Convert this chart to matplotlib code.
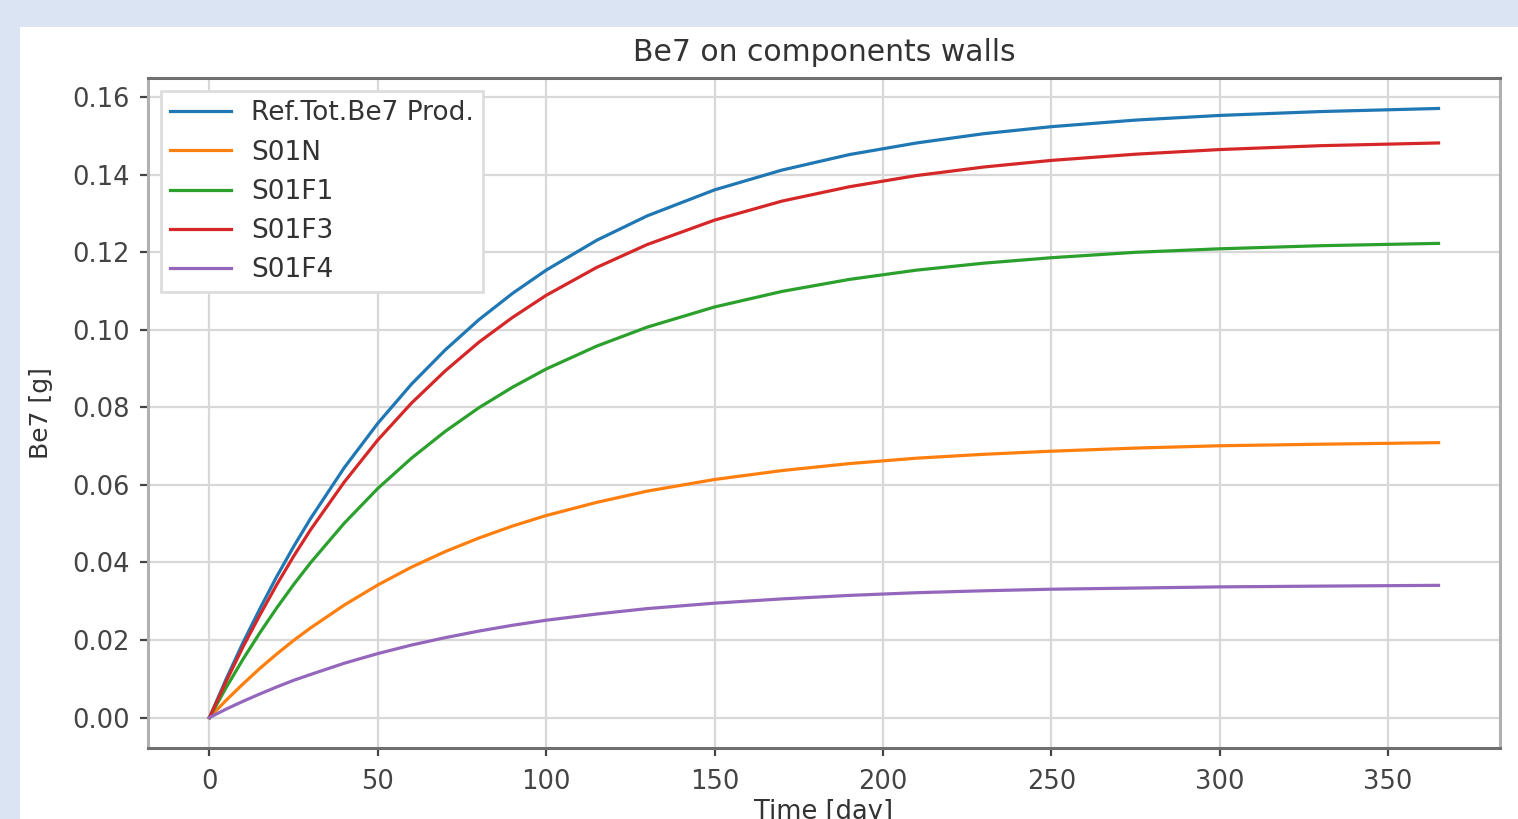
import matplotlib
matplotlib.use("Agg")
import matplotlib.pyplot as plt
from matplotlib.patches import Rectangle

days = [0, 5, 10, 15, 20, 25, 30, 40, 50, 60, 70, 80, 90, 100, 115, 130, 150,
        170, 190, 210, 230, 250, 275, 300, 330, 365]

ref_tot = [0, 0.0100, 0.0194, 0.0281, 0.0364, 0.0441, 0.0513, 0.0644, 0.0759, 0.0860,
           0.0948, 0.1026, 0.1094, 0.1154, 0.1231, 0.1294, 0.1361, 0.1412, 0.1452,
           0.1482, 0.1506, 0.1524, 0.1541, 0.1553, 0.1563, 0.1571]
s01n = [0, 0.0045, 0.0087, 0.0127, 0.0164, 0.0199, 0.0231, 0.0290, 0.0342, 0.0388,
        0.0428, 0.0463, 0.0494, 0.0521, 0.0555, 0.0584, 0.0614, 0.0637, 0.0655,
        0.0669, 0.0679, 0.0687, 0.0695, 0.0701, 0.0705, 0.0709]
s01f1 = [0, 0.0078, 0.0151, 0.0219, 0.0283, 0.0343, 0.0399, 0.0501, 0.0591, 0.0669,
         0.0738, 0.0799, 0.0852, 0.0899, 0.0958, 0.1007, 0.1059, 0.1099, 0.1130,
         0.1154, 0.1172, 0.1186, 0.1200, 0.1209, 0.1217, 0.1223]
s01f3 = [0, 0.0094, 0.0183, 0.0265, 0.0343, 0.0416, 0.0484, 0.0607, 0.0716, 0.0811,
         0.0894, 0.0968, 0.1032, 0.1089, 0.1161, 0.1220, 0.1283, 0.1332, 0.1369,
         0.1398, 0.1420, 0.1437, 0.1453, 0.1465, 0.1475, 0.1482]
s01f4 = [0, 0.0022, 0.0042, 0.0061, 0.0079, 0.0096, 0.0111, 0.0140, 0.0165, 0.0187,
         0.0206, 0.0223, 0.0238, 0.0251, 0.0267, 0.0281, 0.0295, 0.0306, 0.0315,
         0.0322, 0.0327, 0.0331, 0.0334, 0.0337, 0.0339, 0.0341]

series = [("Ref.Tot.Be7 Prod.", ref_tot), ("S01N", s01n), ("S01F1", s01f1),
          ("S01F3", s01f3), ("S01F4", s01f4)]

fig = plt.figure(figsize=(15.18, 8.19), dpi=100)
fig.patch.set_facecolor("#dbe4f3")
# white panel behind the chart
fig.patches.append(Rectangle((20 / 1518, 0), 1, 1 - 27 / 819, transform=fig.transFigure,
                             facecolor="white", edgecolor="none", zorder=-10))

ax = fig.add_axes([148 / 1518, 1 - 748 / 819, (1500 - 148) / 1518, (748 - 78) / 819])
for name, vals in series:
    ax.plot(days, vals, lw=2.3, label=name)

ax.grid(True, color="#d8d8d8", lw=1.6)
ax.set_axisbelow(True)
for side in ["top", "bottom"]:
    ax.spines[side].set_color("#707070")
    ax.spines[side].set_linewidth(2.2)
for side in ["left", "right"]:
    ax.spines[side].set_color("#b0b0b0")
    ax.spines[side].set_linewidth(2.2)

ax.set_yticks([0, 0.02, 0.04, 0.06, 0.08, 0.10, 0.12, 0.14, 0.16])
ax.tick_params(labelsize=18.5, colors="#444444", length=6, width=1.6)
ax.tick_params(axis="x", pad=9)
ax.tick_params(axis="y", pad=7)
ax.set_title("Be7 on components walls", fontsize=21.5, color="#333333", pad=12)
ax.set_xlabel("Time [day]", fontsize=18.5, color="#333333", labelpad=3)
ax.set_ylabel("Be7 [g]", fontsize=18, color="#333333", labelpad=14)

leg = ax.legend(loc="upper left", fontsize=19, handlelength=2.3, handletextpad=0.75,
                borderpad=0.35, labelspacing=0.5, framealpha=1, fancybox=False,
                labelcolor="#333333")
leg.get_frame().set_edgecolor("#dddddd")
leg.get_frame().set_linewidth(2)

fig.savefig("out.png", dpi=100, facecolor=fig.get_facecolor())
